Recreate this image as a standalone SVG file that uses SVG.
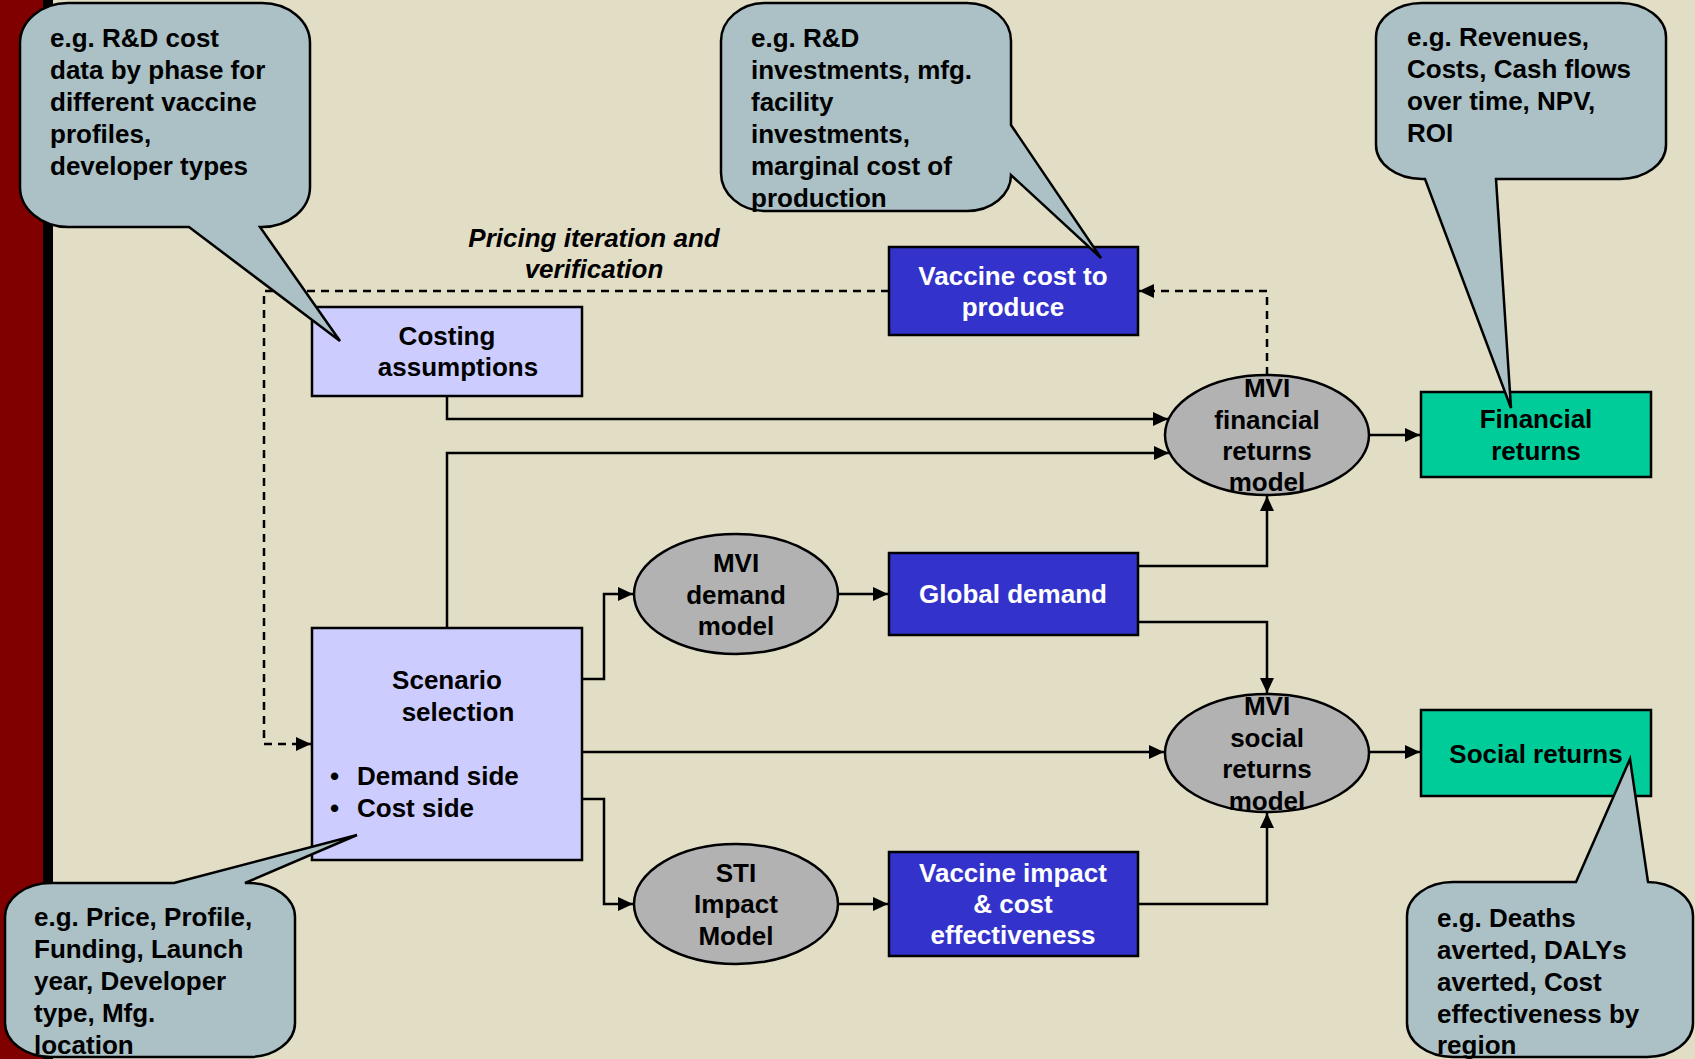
<svg xmlns="http://www.w3.org/2000/svg" width="1695" height="1059" viewBox="0 0 1695 1059">
<defs>
<style>
.t{font-family:"Liberation Sans",Arial,sans-serif;font-weight:bold;font-size:26px;fill:#000}
.w{fill:#fff}
.c{text-anchor:middle}
.it{font-style:italic}
.lav{fill:#CCCCFF;stroke:#000;stroke-width:2.5}
.blue{fill:#3333CC;stroke:#000;stroke-width:2.5}
.grn{fill:#00CC99;stroke:#000;stroke-width:2.5}
.ell{fill:#B2B2B2;stroke:#000;stroke-width:2.5}
.call{fill:#ABC1C5;stroke:#000;stroke-width:2.5;stroke-linejoin:miter}
.ln{fill:none;stroke:#000;stroke-width:2.5}
.dash{fill:none;stroke:#000;stroke-width:2.5;stroke-dasharray:8 6}
</style>
<marker id="ah" markerUnits="userSpaceOnUse" markerWidth="16" markerHeight="14" refX="15" refY="7" orient="auto">
<path d="M0,0 L15,7 L0,14 Z" fill="#000"/>
</marker>
</defs>
<rect x="0" y="0" width="1695" height="1059" fill="#E2DDC5"/>
<rect x="0" y="0" width="43" height="1059" fill="#800000"/>
<rect x="43" y="0" width="10" height="1059" fill="#000"/>

<g id="connectors">
<path class="dash" d="M889,291 H264 V744 H311" marker-end="url(#ah)"/>
<path class="dash" d="M1267,375 V291 H1139" marker-end="url(#ah)"/>
<path class="ln" d="M447,396 V419 H1168" marker-end="url(#ah)"/>
<path class="ln" d="M447,628 V453 H1169" marker-end="url(#ah)"/>
<path class="ln" d="M582,679 H604 V594 H633" marker-end="url(#ah)"/>
<path class="ln" d="M582,799 H604 V904 H633" marker-end="url(#ah)"/>
<path class="ln" d="M582,752 H1164" marker-end="url(#ah)"/>
<path class="ln" d="M838,594 H888" marker-end="url(#ah)"/>
<path class="ln" d="M838,904 H888" marker-end="url(#ah)"/>
<path class="ln" d="M1138,566 H1267 V496" marker-end="url(#ah)"/>
<path class="ln" d="M1138,622 H1267 V693" marker-end="url(#ah)"/>
<path class="ln" d="M1138,904 H1267 V813" marker-end="url(#ah)"/>
<path class="ln" d="M1369,435 H1420" marker-end="url(#ah)"/>
<path class="ln" d="M1369,752 H1420" marker-end="url(#ah)"/>
</g>

<g id="label-pricing">
<text class="t c it" x="594" y="247">Pricing iteration and</text>
<text class="t c it" x="594" y="278">verification</text>
</g>

<g id="costing">
<rect class="lav" x="312" y="307" width="270" height="89"/>
<text class="t c" x="447" y="345">Costing</text>
<text class="t c" x="458" y="376">assumptions</text>
</g>

<g id="scenario">
<rect class="lav" x="312" y="628" width="270" height="232"/>
<text class="t c" x="447" y="689">Scenario</text>
<text class="t c" x="458" y="721">selection</text>
<text class="t" x="330" y="785">•</text>
<text class="t" x="357" y="785">Demand side</text>
<text class="t" x="330" y="817">•</text>
<text class="t" x="357" y="817">Cost side</text>
</g>

<g id="vaccine-cost">
<rect class="blue" x="889" y="247" width="249" height="88"/>
<text class="t c w" x="1013" y="285">Vaccine cost to</text>
<text class="t c w" x="1013" y="316">produce</text>
</g>

<g id="mvi-demand">
<ellipse class="ell" cx="736" cy="594" rx="102" ry="60"/>
<text class="t c" x="736" y="572">MVI</text>
<text class="t c" x="736" y="604">demand</text>
<text class="t c" x="736" y="635">model</text>
</g>

<g id="global-demand">
<rect class="blue" x="889" y="553" width="249" height="82"/>
<text class="t c w" x="1013" y="603">Global demand</text>
</g>

<g id="sti">
<ellipse class="ell" cx="736" cy="904" rx="102" ry="60"/>
<text class="t c" x="736" y="882">STI</text>
<text class="t c" x="736" y="913">Impact</text>
<text class="t c" x="736" y="945">Model</text>
</g>

<g id="vaccine-impact">
<rect class="blue" x="889" y="852" width="249" height="104"/>
<text class="t c w" x="1013" y="882">Vaccine impact</text>
<text class="t c w" x="1013" y="913">&amp; cost</text>
<text class="t c w" x="1013" y="944">effectiveness</text>
</g>

<g id="mvi-financial">
<ellipse class="ell" cx="1267" cy="435" rx="102" ry="60"/>
<text class="t c" x="1267" y="397">MVI</text>
<text class="t c" x="1267" y="429">financial</text>
<text class="t c" x="1267" y="460">returns</text>
<text class="t c" x="1267" y="491">model</text>
</g>

<g id="mvi-social">
<ellipse class="ell" cx="1267" cy="753" rx="102" ry="59"/>
<text class="t c" x="1267" y="715">MVI</text>
<text class="t c" x="1267" y="747">social</text>
<text class="t c" x="1267" y="778">returns</text>
<text class="t c" x="1267" y="810">model</text>
</g>

<g id="financial-returns">
<rect class="grn" x="1421" y="392" width="230" height="85"/>
<text class="t c" x="1536" y="428">Financial</text>
<text class="t c" x="1536" y="460">returns</text>
</g>

<g id="social-returns">
<rect class="grn" x="1421" y="710" width="230" height="86"/>
<text class="t c" x="1536" y="763">Social returns</text>
</g>

<g id="callout-rd-cost">
<path class="call" d="M68,3 H262 A48 40 0 0 1 310,43 V187 A48 40 0 0 1 262,227 H260 L340,341 L189,227 H68 A48 40 0 0 1 20,187 V43 A48 40 0 0 1 68,3 Z"/>
<text class="t" x="50" y="47">e.g. R&amp;D cost</text>
<text class="t" x="50" y="79">data by phase for</text>
<text class="t" x="50" y="111">different vaccine</text>
<text class="t" x="50" y="143">profiles,</text>
<text class="t" x="50" y="175">developer types</text>
</g>

<g id="callout-rd-invest">
<path class="call" d="M765,3 H967 A44 38 0 0 1 1011,41 V125 L1101,258 L1011,175 A44 36 0 0 1 967,211 H765 A44 38 0 0 1 721,173 V41 A44 38 0 0 1 765,3 Z"/>
<text class="t" x="751" y="47">e.g. R&amp;D</text>
<text class="t" x="751" y="79">investments, mfg.</text>
<text class="t" x="751" y="111">facility</text>
<text class="t" x="751" y="143">investments,</text>
<text class="t" x="751" y="175">marginal cost of</text>
<text class="t" x="751" y="207">production</text>
</g>

<g id="callout-revenues">
<path class="call" d="M1422,3 H1620 A46 34 0 0 1 1666,37 V145 A46 34 0 0 1 1620,179 H1496 L1511,408 L1425,179 H1422 A46 34 0 0 1 1376,145 V37 A46 34 0 0 1 1422,3 Z"/>
<text class="t" x="1407" y="46">e.g. Revenues,</text>
<text class="t" x="1407" y="78">Costs, Cash flows</text>
<text class="t" x="1407" y="110">over time, NPV,</text>
<text class="t" x="1407" y="142">ROI</text>
</g>

<g id="callout-price">
<path class="call" d="M51,883 H174 L357,835 L245,883 H249 A46 34 0 0 1 295,917 V1023 A46 34 0 0 1 249,1057 H51 A46 34 0 0 1 5,1023 V917 A46 34 0 0 1 51,883 Z"/>
<text class="t" x="34" y="926">e.g. Price, Profile,</text>
<text class="t" x="34" y="958">Funding, Launch</text>
<text class="t" x="34" y="990">year, Developer</text>
<text class="t" x="34" y="1022">type, Mfg.</text>
<text class="t" x="34" y="1054">location</text>
</g>

<g id="callout-deaths">
<path class="call" d="M1453,882 H1576 L1630,759 L1648,882 H1647 A46 34 0 0 1 1693,916 V1023 A46 34 0 0 1 1647,1057 H1453 A46 34 0 0 1 1407,1023 V916 A46 34 0 0 1 1453,882 Z"/>
<text class="t" x="1437" y="927">e.g. Deaths</text>
<text class="t" x="1437" y="959">averted, DALYs</text>
<text class="t" x="1437" y="991">averted, Cost</text>
<text class="t" x="1437" y="1023">effectiveness by</text>
<text class="t" x="1437" y="1054">region</text>
</g>
</svg>
